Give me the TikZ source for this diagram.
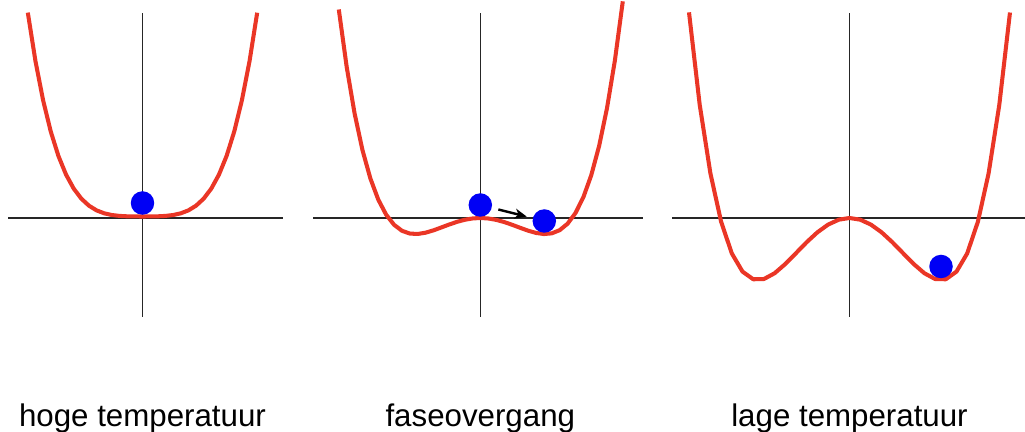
\documentclass[tikz,border=0pt]{standalone}
\usepackage{fontspec}
\setmainfont{Liberation Sans}
\usetikzlibrary{arrows.meta}

\definecolor{potrood}{RGB}{234,54,38}
\definecolor{balblauw}{RGB}{0,0,245}

\tikzset{
  as/.style={line width=0.75pt, black!85},
  pot/.style={line width=2.3pt, potrood, line join=round},
  bal/.style={circle, fill=balblauw, inner sep=0pt, minimum size=0.47cm},
  stap/.style={line width=1.4pt, -{Stealth[length=0.24cm,width=0.2cm,inset=0.07cm]},
    shorten >=0.12cm, shorten <=0.13cm},
  label/.style={anchor=base, font=\fontsize{17.8pt}{20pt}\selectfont}
}

\begin{document}
\begin{tikzpicture}[x=0.02cm, y=0.02cm]

% pixelraster 1025 x 432
\useasboundingbox (0,0) rectangle (1025,432);

% hoogte van de horizontale as
\def\h{214}

% --- hoge temperatuur ---
\begin{scope}[shift={(142.5,\h)}]
\draw[as] (-134.5,0) -- (140.5,0);
\draw[as] (0,-99) -- (0,205);

\draw[pot] plot[domain=-1.147:1.147, samples=31] ({100*\x},{1.5+5*(\x)^2+114*(\x)^4});

\node[bal] (heet) at (0,15) {};

\node[label] (lblhoog) at (0,-209) {hoge temperatuur};
\end{scope}

% --- faseovergang ---
\begin{scope}[shift={(480.3,\h)}]
\draw[as] (-167,0) -- (163,0);
\draw[as] (0,-99) -- (0,205);

\draw[pot] plot[domain=-1.415:1.425, samples=37] ({100*\x},{90*((\x)^4-0.845*(\x)^2)});

\node[bal] (boven) at (0,13) {};
\node[bal] (onder) at (64,-3) {};
\draw[stap] (boven) -- (onder);

\node[label] (lblfase) at (0,-209) {faseovergang};
\end{scope}

% --- lage temperatuur ---
\begin{scope}[shift={(849.5,\h)}]
\draw[as] (-177.5,0) -- (175.5,0);
\draw[as] (0,-99) -- (0,205);

\draw[pot] plot[domain=-1.605:1.605, samples=31] ({100*\x},{88.5*((\x)^4-1.674*(\x)^2)});

\node[bal] (koud) at (91.5,-48.5) {};

\node[label] (lbllaag) at (0,-209) {lage temperatuur};
\end{scope}

\end{tikzpicture}
\end{document}
